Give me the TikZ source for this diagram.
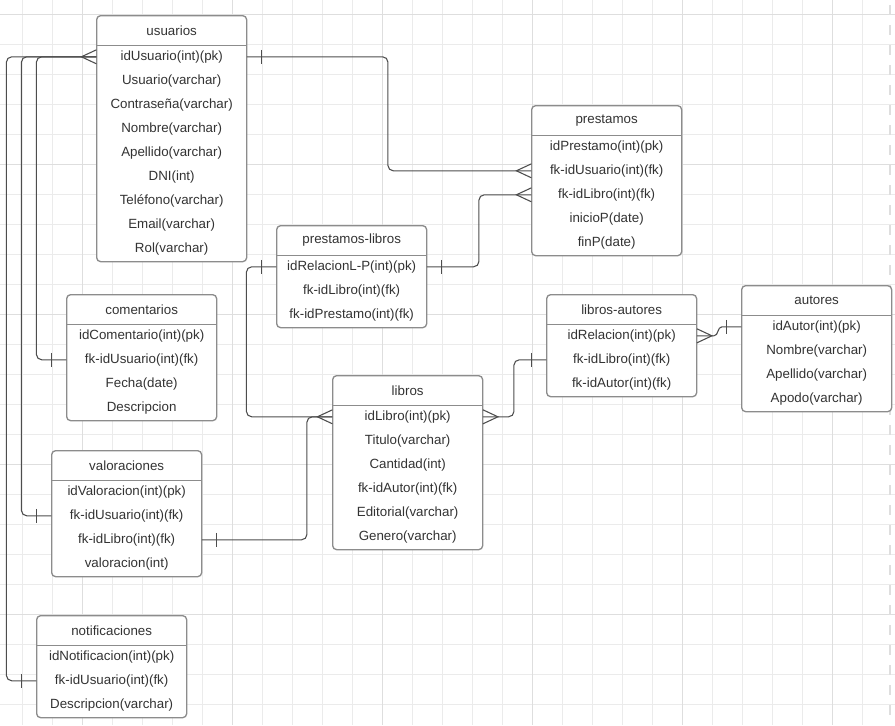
\documentclass[tikz,border=0pt]{standalone}
\usepackage{fontspec}
\setmainfont{Liberation Sans}
\usepackage{tikz}
\usetikzlibrary{positioning, calc}
\definecolor{gridgray}{HTML}{EBEBEB}
\definecolor{gridmajor}{HTML}{DEDEDE}
\definecolor{boxgray}{HTML}{8C8C8C}
\definecolor{txtgray}{HTML}{333333}
\definecolor{linegray}{HTML}{4D4D4D}

\tikzset{
	tablebox/.style={draw=boxgray, line width=1pt, rounded corners=3pt, fill=white, minimum width=112.5pt, inner sep=0pt, anchor=north west},
	tabletitle/.style={minimum width=112.5pt, minimum height=22.5pt, inner sep=0pt, anchor=north, text=txtgray},
	tablerow/.style={minimum width=112.5pt, minimum height=18pt, inner sep=0pt, anchor=north, text=txtgray},
	relline/.style={draw=linegray, line width=0.8pt},
	rel/.style={relline, rounded corners=4pt},
	many/.pic={\draw[relline] (0,-7) -- (-15,0) -- (0,7);},
	one/.pic={\draw[relline] (-15,-7) -- (-15,7);},
}

\begin{document}
\begin{tikzpicture}[x=0.75pt, y=-0.75pt, font=\fontsize{10}{12}\selectfont]
	\useasboundingbox (0,0) rectangle (895,725);
	\fill[white] (0,0) rectangle (895,725);
	
	% grid
	\foreach \gx in {22,52,...,862} {
		\draw[gridgray, line width=0.75pt] (\gx,0) -- (\gx,725);
	}
	\foreach \gy in {14,44,...,704} {
		\draw[gridgray, line width=0.75pt] (0,\gy) -- (895,\gy);
	}
	\foreach \gx in {82,232,...,832} {
		\draw[gridmajor, line width=0.75pt] (\gx,0) -- (\gx,725);
	}
	\foreach \gy in {14,164,...,614} {
		\draw[gridmajor, line width=0.75pt] (0,\gy) -- (895,\gy);
	}
	\draw[gridmajor, line width=2.2pt, dash pattern=on 7.5pt off 7.5pt, dash phase=11.25pt] (890,0) -- (890,725);
	
	% tables
	\foreach \tname/\tx/\ty/\tn/\trows in {
		usuarios/96/15/9/{idUsuario(int)(pk), Usuario(varchar), Contraseña(varchar), Nombre(varchar), Apellido(varchar), DNI(int), Teléfono(varchar), Email(varchar), Rol(varchar)},
		prestamos/531/105/5/{idPrestamo(int)(pk), fk-idUsuario(int)(fk), fk-idLibro(int)(fk), inicioP(date), finP(date)},
		prestamos-libros/276/225/3/{idRelacionL-P(int)(pk), fk-idLibro(int)(fk), fk-idPrestamo(int)(fk)},
		libros/332/375/6/{idLibro(int)(pk), Titulo(varchar), Cantidad(int), fk-idAutor(int)(fk), Editorial(varchar), Genero(varchar)},
		libros-autores/546/294/3/{idRelacion(int)(pk), fk-idLibro(int)(fk), fk-idAutor(int)(fk)},
		autores/741/285/4/{idAutor(int)(pk), Nombre(varchar), Apellido(varchar), Apodo(varchar)},
		comentarios/66/294/4/{idComentario(int)(pk), fk-idUsuario(int)(fk), Fecha(date), Descripcion},
		valoraciones/51/450/4/{idValoracion(int)(pk), fk-idUsuario(int)(fk), fk-idLibro(int)(fk), valoracion(int)},
		notificaciones/36/615/3/{idNotificacion(int)(pk), fk-idUsuario(int)(fk), Descripcion(varchar)}} {
		\node[tablebox, minimum height={(30+24*\tn)*0.75pt}] (\tname) at (\tx,\ty) {};
		\node[tabletitle] (\tname-t) at (\tname.north) {\tname};
		\draw[boxgray, line width=1pt] (\tname-t.south west) -- (\tname-t.south east);
		\foreach \f [count=\i] in \trows {
			\node[tablerow, yshift={-(\i-1)*18pt+0.75pt}] (\tname-\i) at (\tname-t.south) {\f};
		}
	}
	
	% relations
	\draw[rel] (usuarios-1.west) -- ++(-60,0) |- (comentarios-2.west);
	\draw[rel] (usuarios-1.west) -- ++(-75,0) |- (valoraciones-2.west);
	\draw[rel] (usuarios-1.west) -- ++(-90,0) |- (notificaciones-2.west);
	\draw[rel] (usuarios-1.east) -- ++(141,0) |- (prestamos-2.west);
	\draw[rel] (prestamos-libros-1.east) -- ++(52,0) |- (prestamos-3.west);
	\draw[rel] (prestamos-libros-1.west) -- ++(-30,0) |- (libros-1.west);
	\draw[rel] (valoraciones-3.east) -- ++(105,0) |- (libros-1.west);
	\draw[rel] (libros-1.east) -- ++(31,0) |- (libros-autores-2.west);
	\draw[relline] (libros-autores-1.east) -- ++(17,0) to[out=0, in=180] ++(8,-9) -- (autores-1.west);
	
	% cardinality marks
	\foreach \anc in {usuarios-1.west, prestamos-2.west, prestamos-3.west, libros-1.west} {
		\pic at (\anc) {many};
	}
	\foreach \anc in {libros-1.east, libros-autores-1.east} {
		\pic[xscale=-1] at (\anc) {many};
	}
	\foreach \anc in {comentarios-2.west, valoraciones-2.west, notificaciones-2.west, prestamos-libros-1.west, libros-autores-2.west, autores-1.west} {
		\pic at (\anc) {one};
	}
	\foreach \anc in {usuarios-1.east, prestamos-libros-1.east, valoraciones-3.east} {
		\pic[xscale=-1] at (\anc) {one};
	}
	
\end{tikzpicture}
\end{document}
